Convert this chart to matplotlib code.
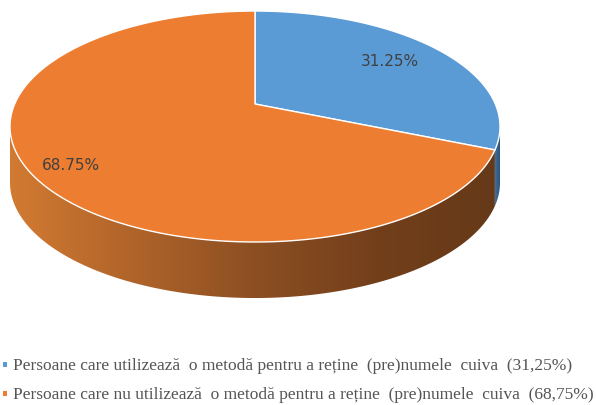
import numpy as np
import matplotlib
matplotlib.use("Agg")
import matplotlib.pyplot as plt
from matplotlib.patches import Polygon, Rectangle
from matplotlib.colors import LinearSegmentedColormap

# ---- data ----
legend_labels = [
    "Persoane care utilizează  o metodă pentru a reține  (pre)numele  cuiva  (31,25%)",
    "Persoane care nu utilizează  o metodă pentru a reține  (pre)numele  cuiva  (68,75%)",
]
values = [31.25, 68.75]
pct_labels = ["31.25%", "68.75%"]
top_colors = ["#5B9BD5", "#ED7D31"]
side_colors = [["#3F6F9C", "#2A4E70"],
               ["#D27A32", "#B0642A", "#8C4F22", "#733F1B", "#653918"]]

W, H = 596, 406
fig = plt.figure(figsize=(W / 100, H / 100), dpi=100)
ax = fig.add_axes([0, 0, 1, 1])
ax.set_xlim(0, W)
ax.set_ylim(H, 0)
ax.axis("off")

# perspective disk geometry (pixel space)
cx, cy = 255, 105
A, B, k = 240.3, 111.1, 0.195
D = 56


def proj(theta_deg, dz=0.0):
    t = np.radians(theta_deg)
    u, v = np.cos(t), np.sin(t)
    w = 1 + k * v
    return cx + A * u / w, cy - B * v / w + dz


fracs = np.array(values) / np.sum(values)
starts = 90 - 360 * np.concatenate([[0], np.cumsum(fracs)[:-1]])
ends = starts - 360 * fracs

th_ext = np.degrees(np.arcsin(k))
vis_lo, vis_hi = -180 + th_ext, -th_ext  # visible near side range

# sides
for i in range(len(values)):
    a0, a1 = ends[i], starts[i]  # a0 < a1
    for shift in (0, -360, 360):
        lo = max(a0 + shift, vis_lo)
        hi = min(a1 + shift, vis_hi)
        if hi > lo:
            th = np.linspace(lo, hi, 200)
            xt, yt = proj(th)
            xb, yb = proj(th[::-1], D)
            pts = np.column_stack([np.concatenate([xt, xb]), np.concatenate([yt, yb])])
            poly = Polygon(pts, closed=True, facecolor="none", edgecolor="none")
            ax.add_patch(poly)
            cmap = LinearSegmentedColormap.from_list("s%d" % i, side_colors[i])
            x0, x1 = pts[:, 0].min(), pts[:, 0].max()
            grad = np.linspace(0, 1, 256).reshape(1, -1)
            if i == 1:
                x0, x1 = 10, 500
            im = ax.imshow(grad, cmap=cmap, extent=[x0, x1, pts[:, 1].max(), pts[:, 1].min()],
                           aspect="auto", zorder=1)
            im.set_clip_path(poly)

# tops
for i in range(len(values)):
    th = np.linspace(starts[i], ends[i], 400)
    xs, ys = proj(th)
    pts = np.column_stack([np.concatenate([[cx], xs]), np.concatenate([[cy], ys])])
    ax.add_patch(Polygon(pts, closed=True, facecolor=top_colors[i], edgecolor="white",
                         linewidth=1.0, joinstyle="round", zorder=3))

# percent labels
label_pos = [(390, 61), (71, 166)]
for (x, y), t in zip(label_pos, pct_labels):
    ax.text(x, y, t, ha="center", va="center", fontsize=11, color="#404040",
            family="DejaVu Sans", zorder=5)

# legend
leg_y = [366, 395]
for i, (lab, y) in enumerate(zip(legend_labels, leg_y)):
    ax.add_patch(Rectangle((2.5, y - 3), 4.5, 4.5, facecolor=top_colors[i], edgecolor="none", zorder=5))
    ax.text(13, y, lab, ha="left", va="center", fontsize=12.5, color="#555555",
            family="Liberation Serif", zorder=5)

fig.savefig("out.png", dpi=100)
